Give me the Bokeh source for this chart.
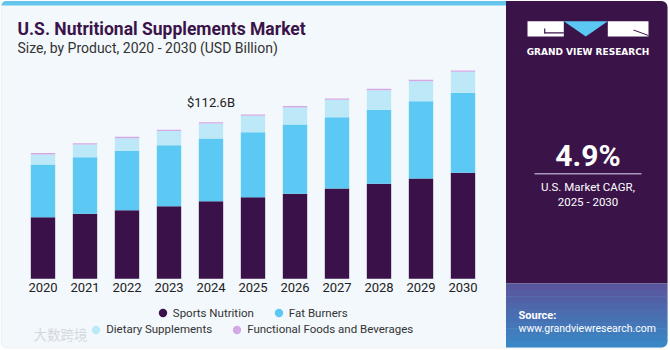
from bokeh.plotting import figure
from bokeh.models import (Range1d, Label, BoxAnnotation, PolyAnnotation,
                          Legend, LegendItem, ColumnDataSource)
from bokeh.core.properties import value
from bokeh.embed import file_html
from bokeh.resources import INLINE

# ---------------- data (USD Billion) ----------------
years = ["2020", "2021", "2022", "2023", "2024", "2025", "2026", "2027", "2028", "2029", "2030"]
sports_nutrition = [44.3, 46.7, 49.3, 52.2, 55.8, 58.7, 61.1, 64.9, 68.3, 72.1, 76.2]
fat_burners = [37.9, 40.7, 42.7, 43.9, 45.1, 46.7, 49.8, 51.3, 53.2, 55.6, 57.5]
dietary_supplements = [7.2, 9.1, 9.1, 10.1, 10.8, 11.8, 12.2, 12.5, 14.1, 14.4, 15.1]
functional_foods = [1.0, 1.0, 1.0, 1.0, 0.9, 0.9, 1.2, 0.9, 1.0, 1.0, 0.9]
series_names = ["Sports Nutrition", "Fat Burners", "Dietary Supplements", "Functional Foods and Beverages"]
highlight_year = "2024"

colors = ["#3a1249", "#5bc9f3", "#bde8f8", "#d3a8e6"]
DARK = "#3a1449"
BG = "#f3f8fc"

W, H = 670, 350
# the plotting frame covers the whole canvas; ranges place the bar area
PX_PER_YEAR = 42.0
X_FIRST_PX = 42.5
VAL_PER_PX = 0.71903
BASE_PX = 278.3
x0 = int(years[0]) - X_FIRST_PX / PX_PER_YEAR
y0v = -(H - BASE_PX) * VAL_PER_PX

p = figure(x_range=Range1d(x0, x0 + W / PX_PER_YEAR),
           y_range=Range1d(y0v, y0v + H * VAL_PER_PX),
           width=W, height=H, min_border=0,
           min_border_left=0, min_border_right=0, min_border_top=0, min_border_bottom=0,
           output_backend="svg", toolbar_location=None, tools="")
p.background_fill_color = "white"
p.border_fill_color = "white"
p.outline_line_color = None
p.xgrid.visible = False
p.ygrid.visible = False
p.xaxis.visible = False
p.yaxis.visible = False

BASELINE_FIX = 0.37  # em shift so that labels sit on the wanted baseline


def sx(X):
    return X


def sy(Y):
    return H - Y


def box(X0, Y0, X1, Y1, color, level="underlay", **kw):
    p.add_layout(BoxAnnotation(left=sx(X0), right=sx(X1), top=sy(Y0), bottom=sy(Y1),
                               left_units="screen", right_units="screen",
                               top_units="screen", bottom_units="screen",
                               fill_color=color, fill_alpha=1, level=level, **kw))


def poly(pts, color, level="underlay"):
    p.add_layout(PolyAnnotation(xs=[sx(a) for a, b in pts], ys=[sy(b) for a, b in pts],
                                xs_units="screen", ys_units="screen",
                                fill_color=color, fill_alpha=1, line_color=None, level=level))


def label(X, Y, text, size, color, bold=False, align="left", font="Roboto"):
    Yb = Y - BASELINE_FIX * size
    p.add_layout(Label(x=sx(X), y=sy(Yb), x_units="screen", y_units="screen", text=text,
                       text_font=font, text_font_size=f"{size}px", text_color=color,
                       text_font_style="bold" if bold else "normal",
                       text_align=align, text_baseline="alphabetic"))


# ---------------- card / panels ----------------
box(0.5, 0.5, 667, 347.5, BG, line_color="#cfd3d7", line_width=1, border_radius=6)
box(1, 0.5, 506, 5, "#63c5ec", line_color=None, border_radius=(5, 0, 0, 0))
box(505.5, 0.5, 667, 283, DARK, line_color=None, border_radius=(0, 6, 0, 0))

# source panel gradient
top_c = (0x58, 0x57, 0x9d)
bot_c = (0x3b, 0x86, 0xc6)
n = 10
ya0, ya1 = 283, 347
for i in range(n):
    t = i / (n - 1)
    c = tuple(int(round(top_c[k] + (bot_c[k] - top_c[k]) * t)) for k in range(3))
    ya = ya0 + (ya1 - ya0) * i / n
    yb = ya0 + (ya1 - ya0) * (i + 1) / n
    br = (0, 0, 6, 0) if i == n - 1 else 0
    box(505.5, ya, 667, yb + (0 if i == n - 1 else 0.5), "#%02x%02x%02x" % c,
        line_color=None, border_radius=br)

# logo
box(527, 20.7, 563.3, 36, "white", line_color=None)
box(607.3, 20.7, 648, 36, "white", line_color=None)
poly([(563.3, 20.7), (607.3, 20.7), (585.3, 36)], "#5bc7f2")
box(544, 31.7, 563.3, 32.9, DARK, line_color=None)
box(543.6, 28, 544.8, 32.9, DARK, line_color=None)
poly([(633, 28.9), (648, 34.4), (648, 35.6), (633, 30.1)], DARK)
label(587.5, 55, "GRAND VIEW RESEARCH", 9, "white", bold=True, align="center", font="DejaVu Sans")

# CAGR
label(587.5, 166, "4.9%", 30, "white", bold=True, align="center")
box(534, 172.6, 641, 174, "#a996bd", line_color=None)
label(587.5, 191, "U.S. Market CAGR,", 11.5, "white", align="center")
label(587.5, 205.5, "2025 - 2030", 11.5, "white", align="center")

# source
label(518, 319.5, "Source:", 11, "white", bold=True)
label(518, 331.5, "www.grandviewresearch.com", 10.5, "white")

# watermark
label(33, 338, "大数跨境", 13.5, "#d3d9de", font="Noto Sans CJK SC")

# titles
label(17, 35, "U.S. Nutritional Supplements Market", 17.5, DARK, bold=True)
label(17, 53, "Size, by Product, 2020 - 2030 (USD Billion)", 14, "#333333")

# ---------------- bars ----------------
year_pos = [int(y) for y in years]
keys = ["sports", "fat", "dietary", "functional"]
src = ColumnDataSource(dict(x=year_pos, sports=sports_nutrition, fat=fat_burners,
                            dietary=dietary_supplements, functional=functional_foods))
p.vbar_stack(keys, x="x", width=0.58, source=src, fill_color=colors, line_color=None)

# category (year) labels under the bars
p.text(x=year_pos, y=[0] * len(years), text=years, text_font=value("Roboto"),
       text_font_size="13px", text_color="#222222", text_align="center",
       text_baseline="top", y_offset=4.5)

i_h = years.index(highlight_year)
tot = sports_nutrition[i_h] + fat_burners[i_h] + dietary_supplements[i_h] + functional_foods[i_h]
p.text(x=[int(highlight_year)], y=[tot], text=[f"${tot:.1f}B"], text_font=value("Roboto"),
       text_font_size="13px", text_color="#222222", text_align="center",
       text_baseline="alphabetic", y_offset=-15 - BASELINE_FIX * 13)

# ---------------- legend ----------------
# legend-only circle renderers (their single point lies far outside the visible ranges)
dummies = [p.scatter(x=[1900], y=[-1000], marker="circle", size=9, fill_color=c, line_color=None)
           for c in colors]


def make_legend(idx, X, Ycenter):
    gh = 21
    leg = Legend(items=[LegendItem(label=series_names[i], renderers=[dummies[i]]) for i in idx],
                 orientation="horizontal", location=(sx(X - 10.5), sy(Ycenter + gh / 2)),
                 glyph_width=21, glyph_height=21, label_height=21, label_standoff=0, spacing=14,
                 padding=0, margin=0, border_line_color=None, background_fill_alpha=0,
                 label_text_font="Roboto", label_text_font_size="11.5px", label_text_color="#333333")
    p.add_layout(leg)


make_legend([0, 1], 162.3, 312.7)
make_legend([2, 3], 95.7, 329)

open("out.html", "w").write(file_html(p, INLINE))
